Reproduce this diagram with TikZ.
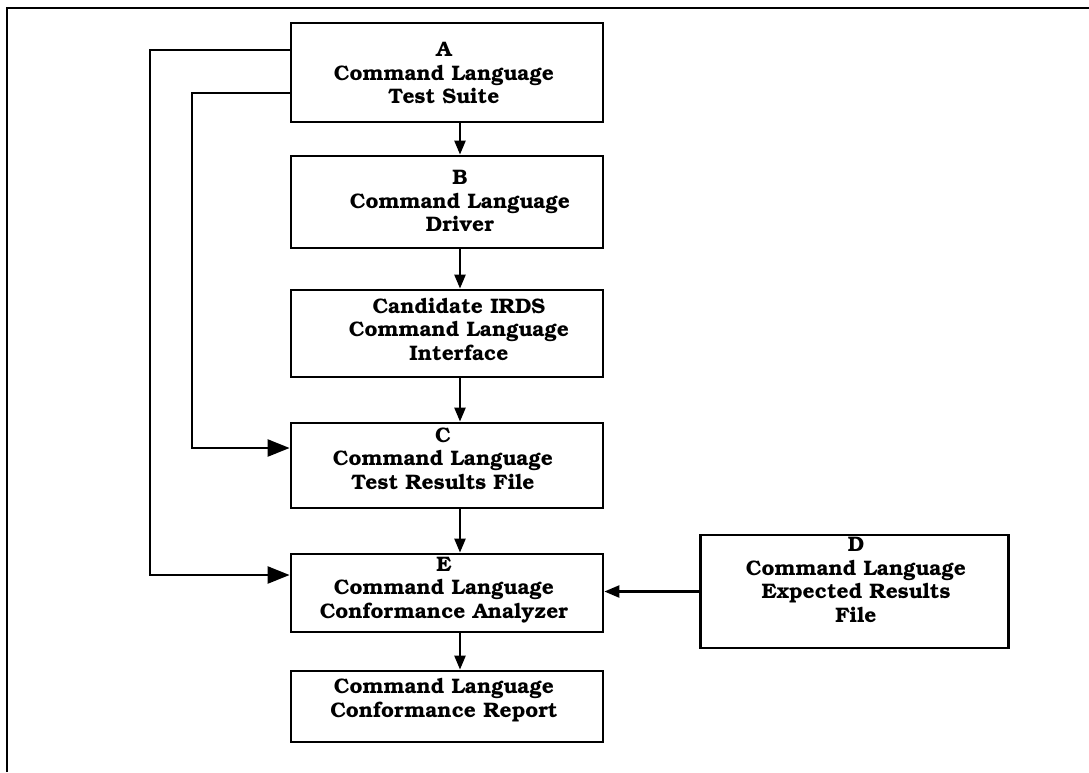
\documentclass[tikz,border=0pt]{standalone}
\usepackage[T1]{fontenc}
\usepackage{bookman}
\usetikzlibrary{arrows.meta}

\tikzset{
  box/.style={draw, line width=2.8pt, rectangle, inner sep=0pt},
  txt/.style={align=center, inner sep=0pt, font=\fontsize{21}{23.5}\selectfont\bfseries},
  link/.style={line width=2.4pt},
  small/.style={link, -{Triangle[length=14pt,width=11pt]}},
  big/.style={link, -{Triangle[length=22pt,width=17pt]}},
  mid/.style={link, -{Triangle[length=15pt,width=12pt]}},
}

\begin{document}
\begin{tikzpicture}[x=1pt,y=-1pt]
  \useasboundingbox (0,0) rectangle (1089,772);
  \fill[white] (0,0) rectangle (1089,772);

  % outer frame (top and left edges)
  \draw[line width=2.4pt] (7,772) -- (7,8) -- (1089,8);

  % boxes
  \node[box, minimum width=312pt, minimum height=99pt] (A) at (447,72.5) {};
  \node[box, minimum width=312pt, minimum height=92pt] (B) at (447,202) {};
  \node[box, minimum width=312pt, minimum height=87pt] (I) at (447,333.5) {};
  \node[box, minimum width=312pt, minimum height=85pt] (C) at (447,465.5) {};
  \node[box, minimum width=312pt, minimum height=78pt] (E) at (447,593) {};
  \node[box, minimum width=312pt, minimum height=71pt] (R) at (447,706.5) {};
  \node[box, minimum width=308pt, minimum height=113pt] (D) at (854.5,591.5) {};

  % box texts
  \node[txt] (At) at (444,73.5) {A\\Command Language\\Test Suite};
  \node[txt] (Bt) at (460,201) {B\\Command Language\\Driver};
  \node[txt] (It) at (459,329) {Candidate IRDS\\Command Language\\Interface};
  \node[txt] (Ct) at (443,458) {C\\Command Language\\Test Results File};
  \node[txt] (Et) at (444,590) {E\\Command Language\\Conformance Analyzer};
  \node[txt] (Rt) at (444,700) {Command Language\\Conformance Report};
  \node[txt] (Dt) at (856,580) {D\\Command Language\\Expected Results\\File};

  % main flow
  \coordinate (spine) at (460,0);
  \draw[small] (A.south -| spine) -- (B.north -| spine);
  \draw[small] (B.south -| spine) -- (I.north -| spine);
  \draw[small] (I.south -| spine) -- (C.north -| spine);
  \draw[small] (C.south -| spine) -- (E.north -| spine);
  \draw[small] (E.south -| spine) -- (R.north -| spine);

  % feedback lines from the test suite
  \coordinate (outer) at (150,0);
  \coordinate (inner) at (192,0);
  \draw[big] ([yshift=22.5pt]A.west) -- ([yshift=22.5pt]A.west -| outer)
             |- ([yshift=18pt]E.west);
  \draw[big] ([yshift=-20.5pt]A.west) -- ([yshift=-20.5pt]A.west -| inner)
             |- ([yshift=17.5pt]C.west);

  % expected results into the analyzer
  \draw[mid] (D.west) -- (D.west -| E.east);
\end{tikzpicture}
\end{document}
